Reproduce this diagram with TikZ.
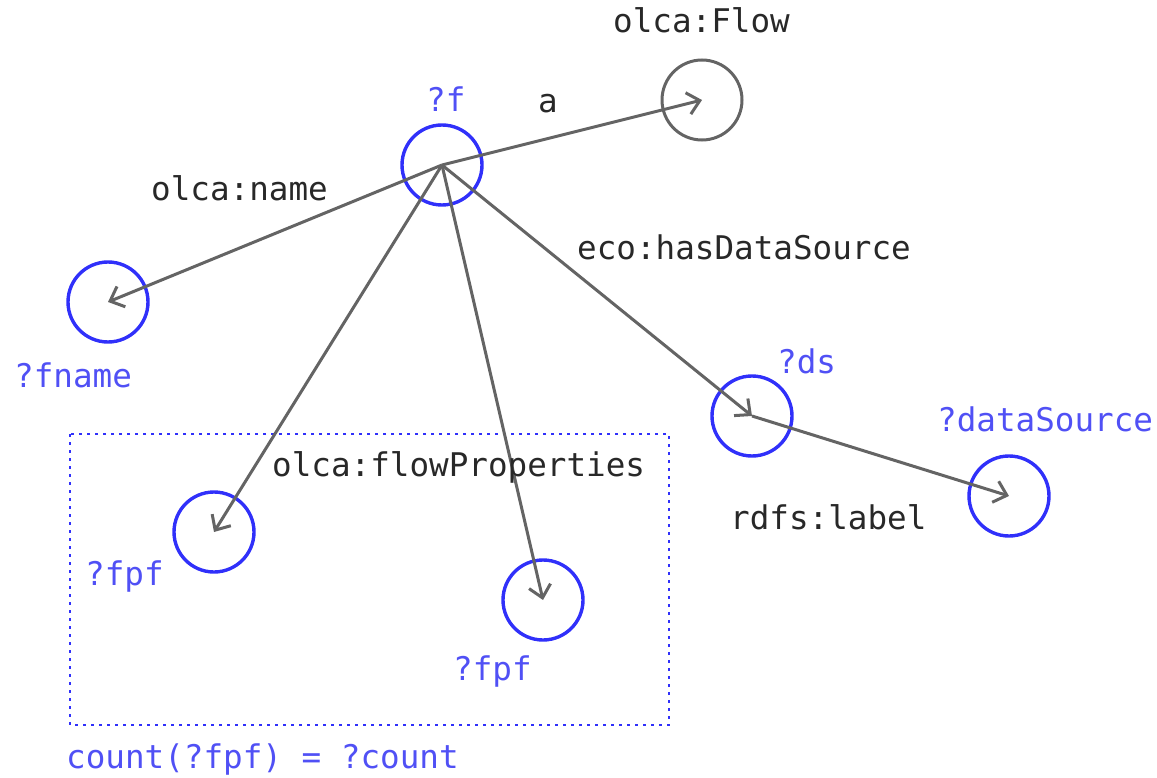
\documentclass[tikz,border=0pt]{standalone}
\usepackage{fontspec}
\setmonofont{DejaVu Sans Mono}
\usetikzlibrary{arrows.meta}
\definecolor{varblue}{RGB}{48,48,250}
\definecolor{vartext}{RGB}{80,80,245}
\definecolor{edgegray}{RGB}{100,100,100}
\definecolor{labelgray}{RGB}{40,40,40}
\begin{document}
\begin{tikzpicture}[x=1pt,y=-1pt,
  var/.style={circle,draw=varblue,line width=3.4pt,minimum size=80pt,inner sep=0pt},
  res/.style={circle,draw=edgegray,line width=3pt,minimum size=80pt,inner sep=0pt},
  txt/.style={anchor=base west,inner sep=0pt,font=\fontsize{32.6}{36}\selectfont\ttfamily},
  vtxt/.style={txt,text=vartext},
  ptxt/.style={txt,text=labelgray},
  edge/.style={draw=edgegray,line width=3pt,-{Straight Barb[length=12pt,width=22pt]}}]
  \useasboundingbox (0,0) rectangle (1157,778);

  % group box for the counted flow properties
  \draw[varblue,line width=2.8pt,dash pattern=on 2.6pt off 5.4pt] (70,434) rectangle (669,725);

  % resources and variables
  \node[var] (f) at (442,165) {};
  \node[res] (flow) at (702,100) {};
  \node[var] (fname) at (108,302) {};
  \node[var] (fpfa) at (214,532) {};
  \node[var] (fpfb) at (543,600) {};
  \node[var] (ds) at (752,416) {};
  \node[var] (dsrc) at (1009,496) {};

  % triple patterns
  \draw[edge] (f.center) -- (flow.center);
  \draw[edge] (f.center) -- (fname.center);
  \draw[edge] (f.center) -- (fpfa.center);
  \draw[edge] (f.center) -- (fpfb.center);
  \draw[edge] (f.center) -- (ds.center);
  \draw[edge] (ds.center) -- (dsrc.center);

  % variable names
  \node[vtxt] (lf) at (426,112) {?f};
  \node[vtxt] (lfname) at (14,387) {?fname};
  \node[vtxt] (lds) at (777,373) {?ds};
  \node[vtxt] (ldsrc) at (937,431) {?dataSource};
  \node[vtxt] (lfpfa) at (85,585) {?fpf};
  \node[vtxt] (lfpfb) at (453,680) {?fpf};
  \node[vtxt] (lcount) at (66,768) {count(?fpf) = ?count};

  % predicate and class names
  \node[ptxt] (lflow) at (613,33) {olca:Flow};
  \node[ptxt] (la) at (538,113) {a};
  \node[ptxt] (lname) at (151,201) {olca:name};
  \node[ptxt] (lhds) at (577,259) {eco:hasDataSource};
  \node[ptxt] (lfp) at (272,476) {olca:flowProperties};
  \node[ptxt] (llabel) at (730,529) {rdfs:label};
\end{tikzpicture}
\end{document}
